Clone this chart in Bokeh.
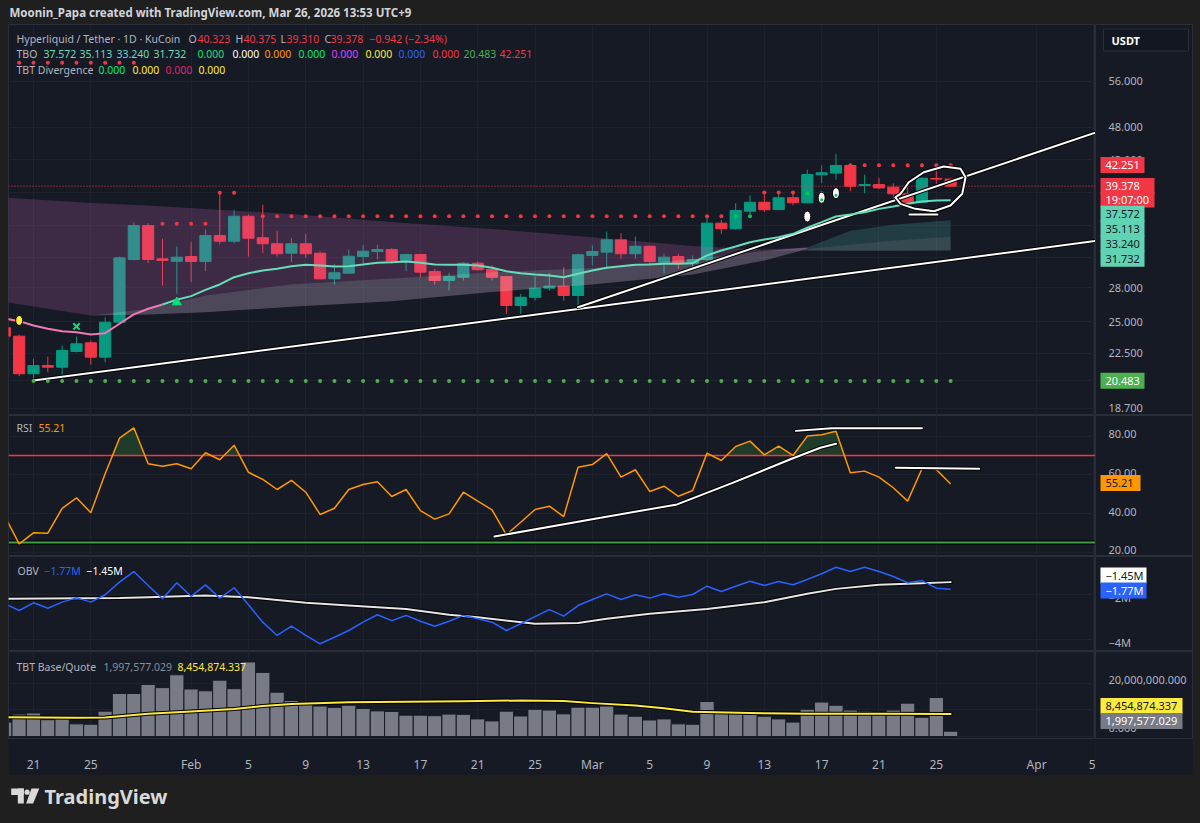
import math
import numpy as np
import pandas as pd
from bokeh.plotting import figure
from bokeh.layouts import column, row
from bokeh.models import Range1d, FixedTicker, Label, Spacer, Grid
from bokeh.core.properties import value
from bokeh.embed import file_html
from bokeh.resources import INLINE

# ------------------------------------------------------------------ data
day_index = pd.date_range("2026-01-19", "2026-03-26", freq="D")

open_ = [24.50, 23.81, 20.99, 21.58, 21.46, 22.62, 23.29, 22.19, 24.95, 30.79, 34.51, 30.86, 30.61,
         31.10, 30.58, 33.37, 32.74, 35.60, 33.12, 32.46, 31.45, 32.46, 31.45, 28.86, 29.41, 31.10, 31.63,
         31.84, 30.69, 31.31, 29.58, 28.70, 29.01, 30.41, 29.78, 29.08, 26.39, 27.13, 27.97, 28.16, 27.29,
         31.21, 31.56, 32.89, 31.39, 32.19, 30.52, 31.10, 30.41, 30.79, 34.78, 34.13, 36.21, 37.31, 36.41,
         37.87, 37.24, 40.91, 41.14, 42.20, 39.46, 39.59, 39.24, 38.38, 37.31, 40.40, 40.323]
high = [24.80, 23.94, 22.07, 22.24, 23.08, 23.78, 23.47, 25.37, 31.10, 34.89, 34.78, 33.00, 32.16,
        32.63, 34.05, 38.42, 36.38, 35.80, 36.99, 33.94, 33.12, 33.56, 31.63, 30.35, 31.84, 32.34, 32.34,
        32.02, 31.35, 31.39, 29.85, 29.45, 30.52, 30.58, 30.18, 29.10, 27.45, 29.08, 29.41, 30.01, 31.39,
        32.27, 33.82, 33.63, 33.26, 32.27, 31.39, 31.39, 31.21, 35.69, 35.17, 37.18, 38.16, 38.59, 38.38,
        38.38, 41.60, 42.20, 43.89, 42.45, 40.91, 40.50, 39.77, 39.57, 40.50, 41.60, 40.375]
low = [23.40, 20.82, 20.57, 21.10, 20.87, 22.55, 21.65, 21.82, 24.90, 30.70, 30.41, 28.22, 27.45,
       28.53, 29.61, 32.38, 32.52, 31.10, 31.45, 31.10, 30.52, 30.96, 28.80, 28.32, 29.35, 30.18, 30.79,
       30.35, 29.61, 29.01, 28.29, 27.75, 28.70, 29.68, 28.70, 25.67, 25.67, 26.83, 27.75, 26.83, 26.24,
       30.18, 30.01, 30.86, 30.86, 30.35, 29.41, 29.85, 29.85, 30.52, 33.56, 34.01, 35.80, 36.09, 36.35,
       36.93, 37.20, 39.77, 40.23, 38.72, 38.46, 39.02, 37.74, 36.93, 37.25, 39.69, 39.310]
close = [23.81, 20.99, 21.58, 21.46, 22.69, 23.21, 22.19, 24.95, 30.96, 34.51, 30.79, 30.69, 31.03,
         30.58, 33.37, 32.74, 35.60, 33.07, 32.46, 31.39, 32.46, 31.39, 28.86, 29.45, 31.13, 31.66, 31.84,
         30.69, 31.31, 29.51, 28.70, 29.08, 30.41, 29.75, 29.01, 26.39, 27.13, 27.97, 28.16, 27.29, 31.28,
         31.63, 32.89, 31.39, 32.19, 30.58, 31.03, 30.41, 30.79, 34.78, 34.13, 36.29, 37.31, 36.38, 37.87,
         37.24, 40.95, 41.18, 42.20, 39.37, 39.59, 39.15, 38.38, 37.31, 40.44, 40.32, 39.378]

# TBO fast line, one value per day
tbo_fast = [25.26, 25.04, 24.68, 24.41, 24.21, 24.13, 23.94, 24.05, 24.82, 25.61, 26.10, 26.48, 26.90,
            27.23, 27.81, 28.32, 29.02, 29.41, 29.68, 29.85, 30.11, 30.25, 30.18, 30.08, 30.11, 30.28, 30.46,
            30.52, 30.58, 30.46, 30.28, 30.25, 30.25, 30.18, 29.95, 29.61, 29.41, 29.28, 29.18, 29.02, 29.35,
            29.68, 29.95, 30.11, 30.25, 30.28, 30.35, 30.35, 30.41, 31.21, 31.73, 32.16, 32.63, 32.93, 33.18,
            33.56, 34.25, 34.90, 35.57, 35.80, 36.08, 36.49, 36.78, 37.11, 37.40, 37.53, 37.572]
fast_turns_bullish = "2026-01-30"

# TBO cloud lines
cloud_dates = ["2026-01-19", "2026-01-25", "2026-01-29", "2026-02-02", "2026-02-08", "2026-02-15",
               "2026-02-22", "2026-03-01", "2026-03-08", "2026-03-13", "2026-03-16", "2026-03-19",
               "2026-03-22", "2026-03-26"]
tbo_medium = [26.7, 25.52, 26.10, 27.29, 28.34, 28.89, 29.51, 29.93, 30.83, 31.68, 32.06, 33.9, 34.6, 35.113]
tbo_slow = [26.7, 25.52, 25.6, 25.8, 26.28, 26.77, 27.61, 28.32, 29.28, 30.69, 31.90, 32.38, 32.81, 33.24]
tbo_slowest = [37.9, 37.23, 36.90, 36.48, 35.87, 34.91, 34.12, 33.19, 32.23, 31.84, 31.73, 31.70, 31.71, 31.732]

rsi = [38.5, 24.3, 30.0, 29.8, 42.7, 48.1, 40.4, 60.5, 78.9, 84.3, 65.7, 64.4, 65.7,
       63.1, 71.4, 67.8, 75.3, 61.3, 57.6, 52.4, 57.1, 51.0, 39.5, 42.7, 52.4, 55.0, 56.4,
       48.8, 52.4, 41.5, 37.1, 39.8, 51.0, 46.4, 41.9, 29.0, 35.5, 42.1, 43.8, 38.4, 63.9,
       65.3, 70.9, 58.8, 62.6, 51.4, 54.1, 48.9, 51.9, 71.2, 67.4, 74.6, 77.4, 70.3, 74.8,
       70.0, 80.0, 80.7, 82.5, 61.0, 61.9, 58.8, 53.3, 46.4, 63.1, 62.7, 55.21]
rsi_upper, rsi_lower = 70, 25

# on-balance volume, millions
obv = [-2.41, -2.71, -2.37, -2.61, -2.34, -2.15, -2.34, -2.01, -1.45, -0.98, -1.60, -2.19, -1.48,
       -2.08, -1.57, -2.16, -1.70, -2.46, -3.23, -3.82, -3.41, -3.82, -4.19, -3.90, -3.60, -3.23, -2.90,
       -3.16, -2.93, -3.19, -3.41, -3.19, -2.93, -3.08, -3.23, -3.60, -3.30, -2.98, -2.67, -2.96, -2.49,
       -2.22, -1.97, -2.22, -2.01, -2.16, -1.97, -2.12, -2.00, -1.63, -1.87, -1.63, -1.41, -1.60, -1.42,
       -1.57, -1.33, -1.08, -0.79, -0.98, -0.79, -0.98, -1.20, -1.48, -1.38, -1.72, -1.77]
obv_ma_dates = ["2026-01-19", "2026-01-27", "2026-01-29", "2026-02-02", "2026-02-05", "2026-02-09",
                "2026-02-12", "2026-02-16", "2026-02-19", "2026-02-21", "2026-02-25", "2026-02-28",
                "2026-03-02", "2026-03-05", "2026-03-09", "2026-03-13", "2026-03-16", "2026-03-18",
                "2026-03-21", "2026-03-24", "2026-03-26"]
obv_ma = [-2.19, -2.16, -2.12, -2.04, -2.12, -2.37, -2.49, -2.64, -2.90, -3.01, -3.30, -3.27,
          -3.08, -2.86, -2.64, -2.34, -1.97, -1.75, -1.57, -1.50, -1.45]

# TBT base/quote volume, millions
base_quote = [5.4, 8.4, 8.8, 6.3, 6.8, 4.75, 4.6, 9.5, 16.1, 16.1, 19.5, 18.3, 23.1,
              17.8, 17.1, 21.1, 17.9, 27.9, 24.0, 16.6, 13.5, 12.3, 11.4, 10.9, 11.7, 10.5, 9.6,
              9.4, 8.0, 8.0, 7.8, 8.4, 8.3, 6.6, 5.85, 9.5, 7.7, 10.2, 9.9, 8.5, 11.0,
              11.0, 11.4, 8.4, 7.6, 6.2, 6.6, 4.75, 4.6, 13.1, 8.8, 9.8, 8.4, 7.6, 6.6,
              5.4, 10.2, 12.9, 11.7, 9.9, 9.5, 9.0, 9.9, 12.5, 7.2, 14.6, 1.997577029]
vol_ma_dates = ["2026-01-19", "2026-01-24", "2026-01-26", "2026-01-29", "2026-02-01", "2026-02-04",
                "2026-02-06", "2026-02-08", "2026-02-12", "2026-02-16", "2026-02-20", "2026-02-24",
                "2026-02-27", "2026-03-01", "2026-03-04", "2026-03-06", "2026-03-08", "2026-03-12",
                "2026-03-16", "2026-03-21", "2026-03-26"]
vol_ma = [7.2, 7.05, 7.1, 8.5, 9.4, 10.3, 11.4, 12.2, 12.8, 13.0, 13.2, 13.5,
          13.3, 12.5, 11.6, 10.6, 9.3, 8.8, 8.5, 8.5, 8.454874337]

# TBO level dots: first day, last day, price, colour
level_runs = [
    ("2026-01-20", "2026-01-28", 59.55, "red"),
    ("2026-01-30", "2026-02-02", 34.71, "red"),
    ("2026-02-03", "2026-02-04", 38.50, "red"),
    ("2026-02-06", "2026-03-10", 35.60, "red"),
    ("2026-03-11", "2026-03-12", 35.60, "green"),
    ("2026-03-13", "2026-03-15", 38.55, "red"),
    ("2026-03-16", "2026-03-18", 38.45, "green"),
    ("2026-03-19", "2026-03-26", 42.251, "red"),
    ("2026-01-21", "2026-03-26", 20.483, "lime"),
]
resistance_now = level_runs[7][2]
support_now = level_runs[8][2]
signal_dates = ["2026-01-24", "2026-01-31"]
signal_prices = [24.6, 26.68]
signal_markers = ["x", "triangle"]
yellow_drop_date, yellow_drop_price = "2026-01-20", 25.1
white_drop_dates = ["2026-03-16", "2026-03-17", "2026-03-18"]
white_drop_prices = [35.56, 37.87, 38.46]

# hand-drawn studies
support_dates = ["2026-01-21", "2026-04-05 12:00"]
support_prices = [20.52, 32.84]
breakout_dates = ["2026-02-28", "2026-04-05 12:00"]
breakout_prices = [26.24, 47.43]
loop_dates = ["2026-03-22 12:00", "2026-03-23 02:00", "2026-03-24 03:00", "2026-03-25 12:30",
              "2026-03-26 16:30", "2026-03-27 01:00", "2026-03-26 19:30", "2026-03-25 23:45",
              "2026-03-24 20:00", "2026-03-23 13:00", "2026-03-22 12:00", "2026-03-22 03:30",
              "2026-03-22 12:00"]
loop_prices = [38.38, 39.90, 41.26, 42.05, 41.73, 40.58, 38.38, 36.90, 36.20, 36.49, 37.11, 37.94, 38.38]
underline_dates = ["2026-03-23 03:00", "2026-03-25 02:00"]
underline_prices = [35.8, 35.8]
rsi_curve_dates = ["2026-02-22 04:00", "2026-03-01 14:00", "2026-03-06 22:00", "2026-03-10 22:00",
                   "2026-03-14 22:00", "2026-03-16 22:00", "2026-03-18 00:00"]
rsi_curve_vals = [28.1, 37.8, 44.7, 56.2, 68.3, 74.0, 76.0]
rsi_top_dates = ["2026-03-15 05:00", "2026-03-17 17:00", "2026-03-24 00:00"]
rsi_top_vals = [82.7, 84.0, 84.0]
rsi_right_dates = ["2026-03-22 04:00", "2026-03-28 00:00"]
rsi_right_vals = [63.6, 63.1]

time_tick_dates = ["2026-01-21", "2026-01-25", "2026-02-01", "2026-02-05", "2026-02-09", "2026-02-13",
                   "2026-02-17", "2026-02-21", "2026-02-25", "2026-03-01", "2026-03-05", "2026-03-09",
                   "2026-03-13", "2026-03-17", "2026-03-21", "2026-03-25", "2026-04-01", "2026-04-05"]
time_tick_labels = ["21", "25", "Feb", "5", "9", "13", "17", "21", "25", "Mar", "5", "9",
                    "13", "17", "21", "25", "Apr", "5"]
price_grid = [18.7, 20.5, 22.5, 25, 28, 31, 34.5, 38.5, 43, 48, 56]
price_labels = [18.7, 22.5, 25, 28, 43, 48, 56]
rsi_ticks = [20, 40, 60, 80]
obv_ticks = [-4, -2]
vol_grid = [0, 10, 20]
vol_labels = [0, 20]

# ------------------------------------------------------------------ style
FONT = "Noto Sans"
BG = "#161a25"
OUTER = "#1f1f1f"
GRID_C = "#1e222d"
SEP = "#2a2e39"
TXT = "#b2b5be"
UP = "#089981"
DOWN = "#f23645"
TEAL_LINE = "#66dcb9"
PINK_LINE = "#f078b4"
DOT_COLORS = {"red": "#f23645", "green": "#00c853", "lime": "#4caf50"}
LEGEND_SIZE = "10.5px"

W = 1200
CHART_W = 1087      # plotting area, page columns 8 .. 1095
SCALE_W = 98        # value scale column, page columns 1095 .. 1193
ORIGIN = pd.Timestamp("2026-01-21")
PX_PER_DAY = 14.33
ORIGIN_COL = 33.0


def dnum(t):
    return (pd.Timestamp(t) - ORIGIN) / pd.Timedelta(days=1)


def col_day(px):
    # page column -> day offset on the shared time scale
    return (px - ORIGIN_COL) / PX_PER_DAY


def price_row(py):
    return math.exp((1281.0 - py) / 298.2)


def rsi_row(py):
    return 20 + (551.7 - py) / 1.935


def obv_row(py):
    return (549.0 - py) / 22.5


def vol_row(py):
    return (738.0 - py) / 2.735


def millions(v):
    return f"{v * 1_000_000:,.3f}"


def short_m(v):
    return f"−{abs(v):.2f}M" if v < 0 else f"{v:.2f}M"


X_RANGE = Range1d(col_day(8), col_day(1095))
x_ticks = [dnum(d) for d in time_tick_dates]


def chart(height, y_range, grid_ticks, y_type="linear", time_axis=False):
    p = figure(width=CHART_W, height=height, x_range=X_RANGE, y_range=y_range,
               y_axis_type=y_type, y_axis_location=None,
               x_axis_location="below" if time_axis else None,
               toolbar_location=None, output_backend="svg",
               min_border=0, min_border_bottom=35 if time_axis else 0,
               background_fill_color=BG, border_fill_color=BG,
               outline_line_color=SEP)
    p.xgrid.grid_line_color = None
    p.ygrid.grid_line_color = None
    p.add_layout(Grid(dimension=0, ticker=FixedTicker(ticks=x_ticks), grid_line_color=GRID_C))
    p.add_layout(Grid(dimension=1, ticker=FixedTicker(ticks=grid_ticks), grid_line_color=GRID_C))
    if time_axis:
        xa = p.xaxis[0]
        xa.ticker = FixedTicker(ticks=x_ticks)
        xa.major_label_overrides = {t: s for t, s in zip(x_ticks, time_tick_labels)}
        xa.axis_line_color = None
        xa.major_tick_line_color = None
        xa.minor_tick_line_color = None
        xa.major_label_text_color = TXT
        xa.major_label_text_font = FONT
        xa.major_label_text_font_size = "12px"
        xa.major_label_standoff = 11
    return p


def scale(height, y_range, y_type="linear", bottom=0):
    # value column on the right: tick texts placed through the pane's own y scale
    f = figure(width=SCALE_W, height=height, x_range=Range1d(0, SCALE_W), y_range=y_range,
               y_axis_type=y_type, x_axis_location=None, y_axis_location=None,
               toolbar_location=None, output_backend="svg",
               min_border=0, min_border_bottom=bottom,
               background_fill_color=BG, border_fill_color=BG, outline_line_color=SEP)
    f.xgrid.grid_line_color = None
    f.ygrid.grid_line_color = None
    return f


def scale_labels(f, ticks, labels, dy=0):
    f.text(x=[13] * len(ticks), y=ticks, text=labels, text_font=value(FONT), text_font_size="11px",
           text_color=TXT, text_align="left", text_baseline="middle", y_offset=dy)


def tag(f, y, s, bg, fg, width=44, left=5):
    f.rect(x=[left + width / 2], y=[y], width=width, height=16, height_units="screen",
           fill_color=bg, line_color=None)
    f.text(x=[left + 5], y=[y], text=[s], text_font=value(FONT), text_font_size="11px",
           text_color=fg, text_align="left", text_baseline="middle")


def text(p, px, y, s, color, size=LEGEND_SIZE, style="normal"):
    p.add_layout(Label(x=col_day(px), y=y, text=s, text_font=FONT, text_font_size=size,
                       text_color=color, text_font_style=style, text_align="left",
                       text_baseline="middle"))


def outlined(p, xs, ys, color="white", width=2):
    p.line(xs, ys, line_color="#000000", line_width=width + 2, line_cap="round", line_join="round")
    p.line(xs, ys, line_color=color, line_width=width, line_cap="round", line_join="round")


def over_level(xs, ys, level, above=True):
    out_x, out_y = [], []
    for i in range(len(xs)):
        if i > 0:
            a, b = ys[i - 1] - level, ys[i] - level
            if a * b < 0:
                t = a / (a - b)
                out_x.append(xs[i - 1] + t * (xs[i] - xs[i - 1]))
                out_y.append(level)
        out_x.append(xs[i])
        out_y.append(max(ys[i], level) if above else min(ys[i], level))
    return np.array(out_x), np.array(out_y)


x = np.array([dnum(d) for d in day_index])
o, h, l, c = (np.array(v) for v in (open_, high, low, close))

# ------------------------------------------------------------------ price pane
price_range = Range1d(price_row(415), price_row(24))
price = chart(391, price_range, price_grid, "log")
price_scale = scale(391, price_range, "log")

for mask, col in ((c >= o, UP), (c < o, DOWN)):
    price.segment(x[mask], l[mask], x[mask], h[mask], line_color=col, line_width=1)
    price.vbar(x=x[mask], width=0.78, top=np.maximum(o[mask], c[mask]),
               bottom=np.minimum(o[mask], c[mask]), fill_color=col, line_color=col, line_width=1)

cx = np.array([dnum(d) for d in cloud_dates])
m, s, sl = np.array(tbo_medium), np.array(tbo_slow), np.array(tbo_slowest)
k = int(np.argmax(m > sl))
a, b = slice(0, k + 1), slice(k, None)
price.varea(cx[a], np.minimum(m, sl)[a], np.maximum(m, sl)[a], fill_color="#c864b4", fill_alpha=0.22)
price.varea(cx[a], np.minimum(m, s)[a], np.maximum(m, s)[a], fill_color="#dcc8e6", fill_alpha=0.27)
price.varea(cx[b], np.minimum(m, s)[b], np.maximum(m, s)[b], fill_color="#50c8be", fill_alpha=0.20)
price.varea(cx[b], np.minimum(s, sl)[b], np.maximum(s, sl)[b], fill_color="#96d2d2", fill_alpha=0.25)

price.line([X_RANGE.start, X_RANGE.end], [close[-1]] * 2, line_color=DOWN, line_width=1,
           line_dash="1 2")

outlined(price, [dnum(d) for d in support_dates], support_prices)
outlined(price, [dnum(d) for d in breakout_dates], breakout_prices)

fast = np.array(tbo_fast)
turn = int(np.searchsorted(x, dnum(fast_turns_bullish)))
price.line(x[:turn + 1], fast[:turn + 1], line_color=PINK_LINE, line_width=2)
price.line(x[turn:], fast[turn:], line_color=TEAL_LINE, line_width=2)

for start, end, lvl, key in level_runs:
    xs = [dnum(d) for d in pd.date_range(start, end, freq="D")]
    price.scatter(xs, [lvl] * len(xs), size=4, marker="circle", fill_color=DOT_COLORS[key],
                  line_color=None)

price.scatter([dnum(signal_dates[0])], [signal_prices[0]], marker=signal_markers[0], size=9,
              line_color="#00e676", line_width=2)
price.scatter([dnum(signal_dates[1])], [signal_prices[1]], marker=signal_markers[1], size=9,
              fill_color="#00e676", line_color="#00e676")
price.ellipse([dnum(yellow_drop_date)], [yellow_drop_price], width=7, height=10,
              width_units="screen", height_units="screen", fill_color="#ffeb3b",
              line_color="#000000", line_width=1)
price.ellipse([dnum(d) for d in white_drop_dates], white_drop_prices, width=7, height=11,
              width_units="screen", height_units="screen", fill_color="#ffffff",
              line_color="#000000", line_width=1)
price.scatter([dnum(d) for d in white_drop_dates[1:]], [p - 0.25 for p in white_drop_prices[1:]],
              size=3, fill_color="#00c853", line_color=None)

outlined(price, [dnum(d) for d in loop_dates], loop_prices)
outlined(price, [dnum(d) for d in underline_dates], underline_prices)

# legend rows
pr = price_row
change = close[-1] - close[-2]
text(price, 16, pr(38), "Hyperliquid / Tether · 1D · KuCoin", TXT)
for px, s_, col in [(188, "O", TXT), (197, f"{open_[-1]:.3f}", DOWN), (235, "H", TXT),
                    (243, f"{high[-1]:.3f}", DOWN), (280, "L", TXT), (286, f"{low[-1]:.3f}", DOWN),
                    (324, "C", TXT), (330, f"{close[-1]:.3f}", DOWN),
                    (369, "−0.942 (−2.34%)", DOWN)]:
    text(price, px, pr(38), s_, col)
text(price, 16, pr(53), "TBO", TXT)
for px, s_, col in [(43, f"{tbo_fast[-1]:.3f}", TEAL_LINE), (79, f"{tbo_medium[-1]:.3f}", TEAL_LINE),
                    (116, f"{tbo_slow[-1]:.3f}", TEAL_LINE), (153, f"{tbo_slowest[-1]:.3f}", TEAL_LINE),
                    (197, "0.000", "#00e676"), (232, "0.000", "#ffffff"),
                    (264, "0.000", "#ff9800"), (298, "0.000", "#00e676"), (331, "0.000", "#e040fb"),
                    (365, "0.000", "#ffeb3b"), (398, "0.000", "#2962ff"), (432, "0.000", DOWN),
                    (463, f"{support_now:.3f}", "#4caf50"), (499, f"{resistance_now:.3f}", DOWN)]:
    text(price, px, pr(53), s_, col)
text(price, 16, pr(69), "TBT Divergence", TXT)
for px, s_, col in [(98, "0.000", "#00e676"), (132, "0.000", "#ffeb3b"), (165, "0.000", "#e91e63"),
                    (198, "0.000", "#ffeb3b")]:
    text(price, px, pr(69), s_, col)

scale_labels(price_scale, price_labels, [f"{t:.3f}" for t in price_labels])
price_scale.rect(x=[50.5], y=[pr(39.5)], width=85, height=22, height_units="screen",
                 fill_color="#131722", line_color=SEP, line_width=1)
price_scale.text(x=[16], y=[pr(39.5)], text=["USDT"], text_font=value(FONT), text_font_size="11px",
                 text_font_style="bold", text_color="#ffffff", text_baseline="middle")
tag(price_scale, pr(164.5), f"{resistance_now:.3f}", DOWN, "#ffffff")
tag(price_scale, pr(185.6), f"{close[-1]:.3f}", DOWN, "#ffffff", width=54)
tag(price_scale, pr(199.0), "19:07:00", DOWN, "#ffffff", width=54)
for py, lab in [(213.3, f"{tbo_fast[-1]:.3f}"), (228.3, f"{tbo_medium[-1]:.3f}"),
                (243.3, f"{tbo_slow[-1]:.3f}"), (258.3, f"{tbo_slowest[-1]:.3f}")]:
    tag(price_scale, pr(py), lab, "#5fd3b3", "#131722")
tag(price_scale, pr(380.3), f"{support_now:.3f}", "#4caf50", "#ffffff")

# ------------------------------------------------------------------ RSI pane
rsi_range = Range1d(rsi_row(556), rsi_row(415))
rsi_p = chart(141, rsi_range, rsi_ticks)
rsi_scale = scale(141, rsi_range)
rv = np.array(rsi)
fx, fy = over_level(x, rv, rsi_upper, above=True)
rsi_p.varea(fx, np.full(len(fx), rsi_upper), fy, fill_color="#2e7d32", fill_alpha=0.35)
gx, gy = over_level(x, rv, rsi_lower, above=False)
rsi_p.varea(gx, gy, np.full(len(gx), rsi_lower), fill_color="#c62828", fill_alpha=0.35)
rsi_p.line([X_RANGE.start, X_RANGE.end], [rsi_upper] * 2, line_color=DOWN, line_width=1.5)
rsi_p.line([X_RANGE.start, X_RANGE.end], [rsi_lower] * 2, line_color="#000000", line_width=4)
rsi_p.line([X_RANGE.start, X_RANGE.end], [rsi_lower] * 2, line_color="#43a047", line_width=2)
rsi_p.line(x, rv, line_color="#ff9800", line_width=1.5)
outlined(rsi_p, [dnum(d) for d in rsi_curve_dates], rsi_curve_vals)
outlined(rsi_p, [dnum(d) for d in rsi_top_dates], rsi_top_vals)
outlined(rsi_p, [dnum(d) for d in rsi_right_dates], rsi_right_vals)
text(rsi_p, 16, rsi_row(427), "RSI", TXT)
text(rsi_p, 38, rsi_row(427), f"{rsi[-1]:.2f}", "#ff9800")
scale_labels(rsi_scale, rsi_ticks, [f"{t:.2f}" for t in rsi_ticks], dy=-2)
tag(rsi_scale, rsi_row(482.5), f"{rsi[-1]:.2f}", "#ff9800", "#131722", width=40)

# ------------------------------------------------------------------ OBV pane
obv_range = Range1d(obv_row(651), obv_row(556))
obv_p = chart(95, obv_range, obv_ticks)
obv_scale = scale(95, obv_range)
outlined(obv_p, [dnum(d) for d in obv_ma_dates], obv_ma, color="#e6e6e6", width=2)
obv_p.line(x, obv, line_color="#2962ff", line_width=1.5)
text(obv_p, 17, obv_row(570), "OBV", TXT)
text(obv_p, 44, obv_row(570), short_m(obv[-1]), "#2962ff")
text(obv_p, 86, obv_row(570), short_m(obv_ma[-1]), "#ffffff")
scale_labels(obv_scale, obv_ticks, [f"−{abs(t)}M" for t in obv_ticks], dy=3)
tag(obv_scale, obv_row(575), short_m(obv_ma[-1]), "#ffffff", "#131722", width=46)
tag(obv_scale, obv_row(590), short_m(obv[-1]), "#2962ff", "#ffffff", width=46)

# ------------------------------------------------------------------ volume pane
vol_p = chart(124, Range1d(vol_row(740), vol_row(651)), vol_grid, time_axis=True)
vol_scale = scale(124, Range1d(vol_row(750), vol_row(651)), bottom=25)
vol_p.vbar(x=x, width=1.0, top=base_quote, bottom=0, fill_color="#787b86", line_color=BG,
           line_width=1)
outlined(vol_p, [dnum(d) for d in vol_ma_dates], vol_ma, color="#ffeb3b", width=2)
text(vol_p, 16, vol_row(667), "TBT Base/Quote", TXT)
text(vol_p, 103, vol_row(667), millions(base_quote[-1]), "#8a8d96")
text(vol_p, 177, vol_row(667), millions(vol_ma[-1]), "#ffeb3b")
scale_labels(vol_scale, vol_labels, [millions(t) for t in vol_labels])
tag(vol_scale, vol_row(713), millions(vol_ma[-1]), "#ffeb3b", "#131722", width=82)
tag(vol_scale, vol_row(730), millions(base_quote[-1]), "#787b86", "#ffffff", width=82)


# ------------------------------------------------------------------ header / footer
def strip(height):
    f = figure(width=W, height=height, x_range=Range1d(0, W), y_range=Range1d(0, height),
               toolbar_location=None, output_backend="svg", x_axis_location=None,
               y_axis_location=None, min_border=0, background_fill_color=OUTER,
               border_fill_color=OUTER, outline_line_color=None)
    f.xgrid.grid_line_color = None
    f.ygrid.grid_line_color = None
    return f


header = strip(24)
header.add_layout(Label(x=9, y=12, text="Moonin_Papa created with TradingView.com, Mar 26, 2026 13:53 UTC+9",
                        text_font=FONT, text_font_size="11.5px", text_font_style="bold",
                        text_color="#d1d4dc", text_align="left", text_baseline="middle"))

footer = strip(48)
logo_c = "#d9d9d9"
footer.quad(left=[10.7, 17.3], right=[23.3, 23.3], top=[35, 35], bottom=[28.5, 20],
            fill_color=logo_c, line_color=None)
footer.circle([26.6], [31.3], radius=2.6, fill_color=logo_c, line_color=None)
footer.patch([31.0, 38.8, 32.6, 25.6], [35, 35, 20, 20], fill_color=logo_c, line_color=None)
footer.add_layout(Label(x=44, y=27, text="TradingView", text_font=FONT, text_font_size="20px",
                        text_font_style="bold", text_color=logo_c, text_align="left",
                        text_baseline="middle"))

panes = column(row(price, price_scale), row(rsi_p, rsi_scale), row(obv_p, obv_scale),
               row(vol_p, vol_scale))
layout = column(header,
                row(Spacer(width=8, height=751), panes, Spacer(width=7, height=751)),
                footer, styles={"background-color": OUTER})

open("out.html", "w").write(file_html(layout, INLINE))
